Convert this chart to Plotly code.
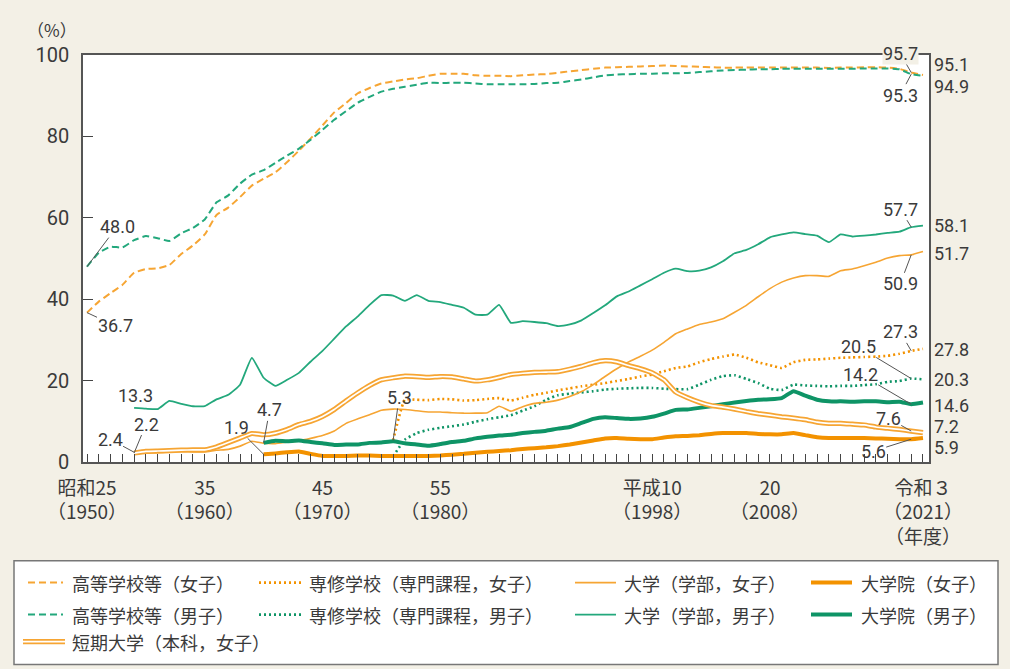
import plotly.graph_objects as go

# ---------------- data ----------------
years_hs = list(range(1950, 2022))
years_univ = list(range(1954, 2022))
years_grad = list(range(1965, 2022))
years_sen = list(range(1976, 2022))

hs_female = [36.7, 39.4, 41.5, 43.5, 46.5, 47.4, 47.6, 48.4, 51.1, 53.2,
             55.9, 60.7, 62.5, 65.1, 67.9, 69.6, 71.2, 73.7, 76.5, 79.5,
             82.7, 85.9, 88.2, 90.6, 91.9, 93.0, 93.5, 94.0, 94.3, 94.9,
             95.4, 95.4, 95.4, 95.0, 94.9, 94.9, 94.8, 95.0, 95.2, 95.3,
             95.6, 96.0, 96.3, 96.6, 96.9, 97.0, 97.1, 97.2, 97.3, 97.4,
             97.3, 97.2, 97.1, 97.0, 96.9, 96.9, 96.9, 96.9, 96.9, 96.9,
             96.9, 96.9, 96.9, 96.8, 96.9, 96.9, 97.0, 97.0, 96.9, 96.6,
             95.7, 95.1]
hs_male = [48.0, 51.4, 52.9, 52.7, 54.5, 55.5, 55.0, 54.3, 56.2, 57.5,
           59.6, 63.8, 65.5, 68.4, 70.6, 71.7, 73.5, 75.3, 77.0, 79.2,
           81.6, 84.1, 86.2, 88.3, 89.7, 91.0, 91.7, 92.2, 92.7, 93.2,
           93.1, 93.2, 93.2, 93.0, 92.8, 92.8, 92.8, 92.8, 92.9, 93.1,
           93.2, 93.6, 94.0, 94.5, 95.0, 95.2, 95.3, 95.4, 95.4, 95.5,
           95.5, 95.6, 95.8, 96.0, 96.2, 96.3, 96.4, 96.5, 96.5, 96.6,
           96.6, 96.6, 96.6, 96.6, 96.6, 96.6, 96.7, 96.7, 96.7, 96.5,
           95.3, 94.9]
univ_female = [2.4, 2.4, 2.3, 2.5, 2.6, 2.5, 2.5, 2.9, 3.1, 3.9,
               5.1, 4.6, 4.5, 4.9, 5.2, 5.8, 6.5, 7.6, 9.5, 10.6,
               11.6, 12.7, 13.0, 12.9, 12.6, 12.3, 12.3, 12.1, 12.0, 12.0,
               12.1, 13.7, 12.5, 13.6, 14.4, 14.7, 15.2, 16.1, 17.3, 19.0,
               21.0, 22.9, 24.6, 26.0, 27.5, 29.4, 31.5, 32.7, 33.8, 34.4,
               35.2, 36.8, 38.5, 40.6, 42.6, 44.2, 45.2, 45.8, 45.8, 45.6,
               47.0, 47.4, 48.2, 49.1, 50.1, 50.7, 50.9, 51.7]
univ_male = [13.3, 13.1, 13.0, 15.0, 14.3, 13.7, 13.7, 15.4, 16.5, 19.0,
             25.6, 20.7, 18.7, 20.2, 21.9, 24.7, 27.3, 30.3, 33.3, 35.8,
             38.6, 41.0, 40.9, 39.6, 41.0, 39.6, 39.3, 38.6, 37.9, 36.2,
             36.2, 38.6, 34.2, 34.6, 34.4, 34.1, 33.4, 33.8, 34.8, 36.6,
             38.5, 40.7, 41.9, 43.4, 44.9, 46.5, 47.5, 46.9, 47.0, 47.8,
             49.3, 51.3, 52.1, 53.5, 55.2, 55.9, 56.4, 56.0, 55.6, 54.0,
             55.9, 55.4, 55.6, 55.9, 56.3, 56.6, 57.7, 58.1]
jc_female = [2.2, 2.6, 2.7, 2.8, 2.9, 3.0, 3.0, 3.7, 4.8, 5.9,
             7.0, 6.7, 7.1, 8.0, 9.2, 10.0, 11.2, 12.9, 15.0, 17.0,
             18.8, 20.2, 20.7, 21.1, 21.0, 20.8, 21.0, 20.9, 20.4, 19.9,
             20.2, 20.8, 21.5, 21.8, 22.0, 22.1, 22.2, 22.8, 23.5, 24.4,
             24.9, 24.6, 23.7, 22.9, 21.9, 20.2, 17.2, 15.8, 14.7, 13.9,
             13.5, 13.0, 12.4, 11.9, 11.5, 11.1, 10.8, 10.4, 9.8, 9.5,
             9.5, 9.3, 9.1, 8.6, 8.3, 8.0, 7.6, 7.2]
grad_female = [1.9, 2.1, 2.4, 2.6, 2.0, 1.5, 1.5, 1.5, 1.6, 1.6,
               1.5, 1.5, 1.5, 1.5, 1.5, 1.6, 1.8, 2.0, 2.3, 2.5,
               2.7, 2.9, 3.2, 3.4, 3.6, 3.9, 4.3, 4.8, 5.3, 5.8,
               5.9, 5.7, 5.6, 5.6, 6.0, 6.3, 6.4, 6.6, 6.9, 7.1,
               7.1, 7.1, 6.9, 6.8, 6.8, 7.1, 6.6, 6.1, 5.9, 5.9,
               5.9, 5.9, 5.8, 5.7, 5.6, 5.6, 5.9]
grad_male = [4.7, 5.2, 5.1, 5.3, 4.9, 4.6, 4.2, 4.3, 4.3, 4.7,
             4.8, 5.1, 4.6, 4.3, 4.0, 4.4, 4.9, 5.2, 5.8, 6.2,
             6.5, 6.7, 7.1, 7.4, 7.7, 8.2, 8.6, 9.6, 10.6, 11.0,
             10.8, 10.6, 10.7, 11.1, 11.9, 12.8, 12.9, 13.3, 13.7, 14.2,
             14.6, 15.0, 15.3, 15.4, 15.7, 17.4, 16.3, 15.3, 14.9, 14.9,
             14.8, 14.9, 14.9, 14.7, 14.8, 14.2, 14.6]
sen_female = [5.3, 15.3, 15.3, 15.2, 15.5, 15.4, 15.1, 15.2, 15.5, 15.7,
              15.1, 15.8, 16.5, 17.0, 17.6, 18.1, 18.6, 19.0, 19.4, 19.9,
              20.4, 21.0, 21.5, 22.3, 23.1, 23.5, 24.5, 25.3, 25.9, 26.4,
              25.6, 24.5, 23.8, 23.1, 24.5, 25.1, 25.2, 25.4, 25.6, 25.7,
              25.8, 25.9, 26.1, 26.6, 27.3, 27.8]
sen_male = [1.4, 5.5, 7.1, 7.9, 8.4, 8.8, 9.2, 9.9, 10.5, 11.0,
            11.5, 12.6, 13.7, 15.3, 16.4, 16.8, 17.1, 17.4, 17.8, 18.0,
            18.1, 18.2, 18.2, 18.0, 17.9, 17.9, 19.0, 20.2, 21.1, 21.3,
            20.4, 19.4, 18.0, 17.7, 19.0, 18.8, 18.7, 18.6, 18.7, 18.7,
            18.9, 19.1, 19.7, 19.9, 20.5, 20.3]

names = {
    "hs_f": "高等学校等（女子）", "hs_m": "高等学校等（男子）",
    "sen_f": "専修学校（専門課程，女子）", "sen_m": "専修学校（専門課程，男子）",
    "univ_f": "大学（学部，女子）", "univ_m": "大学（学部，男子）",
    "grad_f": "大学院（女子）", "grad_m": "大学院（男子）",
    "jc_f": "短期大学（本科，女子）",
}

tick_years = [1950, 1960, 1970, 1980, 1998, 2008, 2021]
tick_texts = ["昭和25<br>（1950）", "35<br>（1960）", "45<br>（1970）", "55<br>（1980）",
              "平成10<br>（1998）", "20<br>（2008）", "令和３<br>（2021）<br>（年度）"]

# ---------------- styles / layout ----------------
FONT = "Noto Sans CJK JP"
NUMFONT = "Roboto"
TXT = "#3a3a3a"
ORANGE = "#f6a533"
ORANGE_D = "#f39200"
GREEN = "#23a87c"
GREEN_D = "#0e9466"
BG = "#f3f0e6"
W, H = 1010, 669
L, R, T, B = 83, 929, 55, 462.3
X0, X1 = 1949.66, 2021.51

styles = {
    "hs_f": dict(color=ORANGE, width=2, dash="7px,4px"),
    "hs_m": dict(color=GREEN, width=2, dash="7px,4px"),
    "sen_f": dict(color=ORANGE_D, width=2.6, dash="2px,3px"),
    "sen_m": dict(color=GREEN_D, width=2.6, dash="2px,3px"),
    "univ_f": dict(color=ORANGE, width=1.6),
    "univ_m": dict(color=GREEN, width=1.8),
    "grad_f": dict(color=ORANGE_D, width=4),
    "grad_m": dict(color=GREEN_D, width=4),
}

series = [
    ("hs_f", years_hs, hs_female), ("hs_m", years_hs, hs_male),
    ("sen_f", years_sen, sen_female), ("sen_m", years_sen, sen_male),
    ("univ_f", years_univ, univ_female), ("univ_m", years_univ, univ_male),
    ("grad_f", years_grad, grad_female), ("grad_m", years_grad, grad_male),
]

fig = go.Figure()
for key, xs, ys in series:
    fig.add_trace(go.Scatter(x=xs, y=ys, mode="lines", name=names[key],
                             line=dict(**styles[key], shape="spline", smoothing=0.4),
                             showlegend=False, hoverinfo="x+y+name"))
# double line for junior college
fig.add_trace(go.Scatter(x=years_univ, y=jc_female, mode="lines", name=names["jc_f"],
                         line=dict(color=ORANGE, width=5.2, shape="spline", smoothing=0.4),
                         showlegend=False))
fig.add_trace(go.Scatter(x=years_univ, y=jc_female, mode="lines", name=names["jc_f"],
                         line=dict(color="white", width=1.7, shape="spline", smoothing=0.4),
                         showlegend=False, hoverinfo="skip"))


def px(xpx):
    return (xpx - L) / (R - L)


def py(ypx):
    return (B - ypx) / (B - T)


annotations = []
shapes = []

# leader-line labels: (x year, value, ax, ay)
lead = [
    (1950, hs_male[0], 30, -40),
    (1950, hs_female[0], 28, 13),
    (1954, univ_female[0], -24, -13),
    (1954, jc_female[0], 12, -29),
    (1965, grad_female[0], -27, -27),
    (1965, grad_male[0], 6, -33),
    (1976, sen_female[0], 6, -43),
    (2020, hs_female[-2], -11, -19),
    (2020, hs_male[-2], -11, 21),
    (2020, univ_male[-2], -11, -18),
    (2020, univ_female[-2], -11, 29),
    (2020, sen_female[-2], -11, -19),
    (2020, sen_male[-2], -53, -32),
    (2020, grad_male[-2], -51, -30),
    (2020, jc_female[-2], -23, -13),
    (2020, grad_female[-2], -38, 12),
]
for i, (xv, yv, ax, ay) in enumerate(lead):
    a = dict(x=xv, y=yv, text=f"{yv:.1f}", showarrow=True, arrowhead=0,
             arrowwidth=1, arrowcolor="#555", ax=ax, ay=ay, standoff=0,
             font=dict(family=NUMFONT, size=18, color=TXT), borderpad=0)
    if i == 7:
        a["bgcolor"] = BG
    annotations.append(a)

# 13.3 label without leader
annotations.append(dict(x=1954, y=univ_male[0], text=f"{univ_male[0]:.1f}", showarrow=False,
                        yshift=12, xshift=1, font=dict(family=NUMFONT, size=18, color=TXT)))

# right side labels (2021 values)
right = [
    (hs_female[-1], 10), (hs_male[-1], -11),
    (univ_male[-1], 0), (univ_female[-1], -2),
    (sen_female[-1], -1), (sen_male[-1], 0), (grad_male[-1], -3),
    (jc_female[-1], 6), (grad_female[-1], -10),
]
for v, ys in right:
    annotations.append(dict(x=2021, y=v, text=f"{v:.1f}", showarrow=False, xanchor="left",
                            xshift=10, yshift=ys, borderpad=0,
                            font=dict(family=NUMFONT, size=18, color=TXT)))

# (%) label
annotations.append(dict(xref="paper", yref="paper", x=px(52), y=py(29), text="（%）",
                        xanchor="center", yanchor="middle",
                        showarrow=False, font=dict(family=FONT, size=17, color=TXT)))

# ---------------- manual legend ----------------
shapes.append(dict(type="rect", xref="paper", yref="paper", x0=px(14), x1=px(998),
                   y0=py(561), y1=py(665), fillcolor="white",
                   line=dict(color="#777", width=1.5), layer="below"))
cols = [(28, 63, 70), (259, 303, 307), (575, 616, 622), (811, 852, 859)]
rows = [583, 615]
grid = [["hs_f", "sen_f", "univ_f", "grad_f"], ["hs_m", "sen_m", "univ_m", "grad_m"]]
for r, yrow in enumerate(rows):
    for c, (sx0, sx1, tx) in enumerate(cols):
        key = grid[r][c]
        st = styles[key]
        shapes.append(dict(type="line", xref="paper", yref="paper", x0=px(sx0), x1=px(sx1),
                           y0=py(yrow), y1=py(yrow),
                           line=dict(color=st["color"], width=st["width"], dash=st.get("dash", "solid"))))
        annotations.append(dict(xref="paper", yref="paper", x=px(tx), y=py(yrow), xanchor="left",
                                yanchor="middle", text=names[key], showarrow=False,
                                font=dict(family=FONT, size=18, color=TXT)))
# junior college legend row
shapes.append(dict(type="line", xref="paper", yref="paper", x0=px(23), x1=px(65),
                   y0=py(642), y1=py(642), line=dict(color=ORANGE, width=5.2)))
shapes.append(dict(type="line", xref="paper", yref="paper", x0=px(23), x1=px(65),
                   y0=py(642), y1=py(642), line=dict(color="white", width=1.7)))
annotations.append(dict(xref="paper", yref="paper", x=px(70), y=py(642), xanchor="left",
                        yanchor="middle", text=names["jc_f"], showarrow=False,
                        font=dict(family=FONT, size=18, color=TXT)))

all_years = list(range(1950, 2022))
ticktext_all = [tick_texts[tick_years.index(y)] if y in tick_years else "" for y in all_years]

fig.update_layout(
    width=W, height=H,
    margin=dict(l=L, r=W - R, t=T, b=H - B, pad=0, autoexpand=False),
    paper_bgcolor=BG, plot_bgcolor="white",
    font=dict(family=FONT, size=18, color=TXT),
    xaxis=dict(range=[X0, X1], tickmode="array", tickvals=all_years, ticktext=ticktext_all,
               ticks="inside", ticklen=8, tickwidth=1.3, tickcolor="#444",
               showline=True, linecolor="#555", linewidth=1.6, mirror=True,
               showgrid=False, zeroline=False, ticklabelstandoff=8,
               tickfont=dict(family=FONT, size=19, color=TXT)),
    yaxis=dict(range=[0, 100], tickvals=[0, 20, 40, 60, 80, 100],
               ticks="inside", ticklen=10, tickwidth=1.3, tickcolor="#444",
               showline=True, linecolor="#555", linewidth=1.6, mirror=True,
               showgrid=False, zeroline=False, ticklabelstandoff=8,
               tickfont=dict(family=NUMFONT, size=20, color=TXT)),
    annotations=annotations, shapes=shapes, showlegend=False,
)

fig.write_html("out.html", config={"displayModeBar": False},
               post_script="document.body.style.margin='0';document.body.style.padding='0';"
                           "document.documentElement.style.overflow='hidden';")
